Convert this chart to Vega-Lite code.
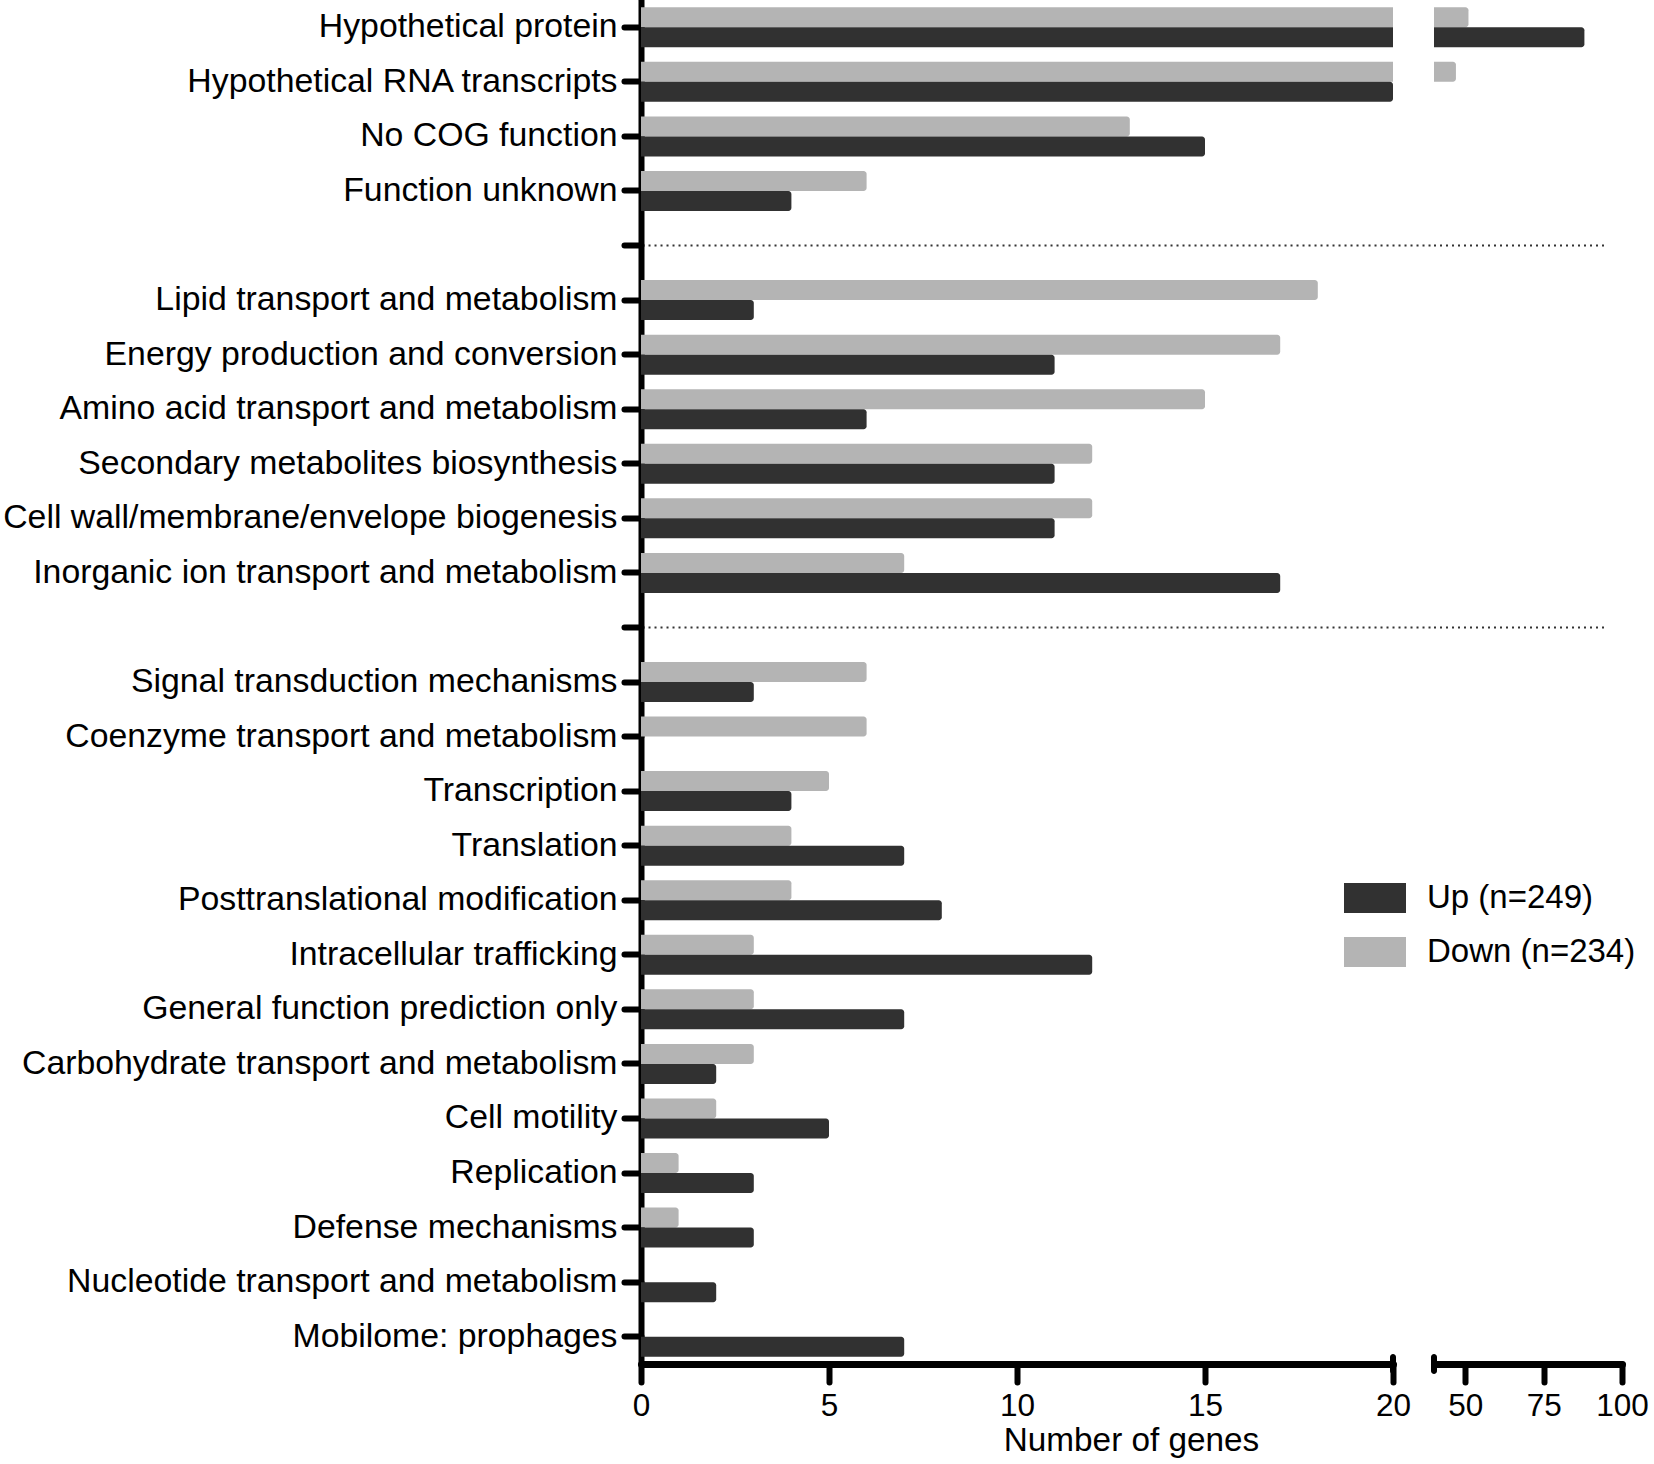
{
  "$schema": "https://vega.github.io/schema/vega-lite/v6.json",
  "padding": {"left": 2, "top": 0, "right": 5, "bottom": 5},
  "bounds": "flush",
  "spacing": 41,
  "config": {
    "font": "Liberation Sans",
    "view": {"stroke": null},
    "axis": {
      "domainColor": "black",
      "tickColor": "black",
      "labelColor": "black",
      "titleColor": "black",
      "grid": false,
      "zindex": 1,
      "tickCap": "round",
      "domainCap": "round",
      "labelFlush": false,
      "labelOverlap": false,
      "labelLimit": 0
    }
  },
  "datasets": {
    "genes": [
      {"category": "Hypothetical protein", "direction": "Down", "count": 51},
      {"category": "Hypothetical protein", "direction": "Up", "count": 88},
      {"category": "Hypothetical RNA transcripts", "direction": "Down", "count": 47},
      {"category": "Hypothetical RNA transcripts", "direction": "Up", "count": 20},
      {"category": "No COG function", "direction": "Down", "count": 13},
      {"category": "No COG function", "direction": "Up", "count": 15},
      {"category": "Function unknown", "direction": "Down", "count": 6},
      {"category": "Function unknown", "direction": "Up", "count": 4},
      {"category": "Lipid transport and metabolism", "direction": "Down", "count": 18},
      {"category": "Lipid transport and metabolism", "direction": "Up", "count": 3},
      {"category": "Energy production and conversion", "direction": "Down", "count": 17},
      {"category": "Energy production and conversion", "direction": "Up", "count": 11},
      {"category": "Amino acid transport and metabolism", "direction": "Down", "count": 15},
      {"category": "Amino acid transport and metabolism", "direction": "Up", "count": 6},
      {"category": "Secondary metabolites biosynthesis", "direction": "Down", "count": 12},
      {"category": "Secondary metabolites biosynthesis", "direction": "Up", "count": 11},
      {"category": "Cell wall/membrane/envelope biogenesis", "direction": "Down", "count": 12},
      {"category": "Cell wall/membrane/envelope biogenesis", "direction": "Up", "count": 11},
      {"category": "Inorganic ion transport and metabolism", "direction": "Down", "count": 7},
      {"category": "Inorganic ion transport and metabolism", "direction": "Up", "count": 17},
      {"category": "Signal transduction mechanisms", "direction": "Down", "count": 6},
      {"category": "Signal transduction mechanisms", "direction": "Up", "count": 3},
      {"category": "Coenzyme transport and metabolism", "direction": "Down", "count": 6},
      {"category": "Coenzyme transport and metabolism", "direction": "Up", "count": 0},
      {"category": "Transcription", "direction": "Down", "count": 5},
      {"category": "Transcription", "direction": "Up", "count": 4},
      {"category": "Translation", "direction": "Down", "count": 4},
      {"category": "Translation", "direction": "Up", "count": 7},
      {"category": "Posttranslational modification", "direction": "Down", "count": 4},
      {"category": "Posttranslational modification", "direction": "Up", "count": 8},
      {"category": "Intracellular trafficking", "direction": "Down", "count": 3},
      {"category": "Intracellular trafficking", "direction": "Up", "count": 12},
      {"category": "General function prediction only", "direction": "Down", "count": 3},
      {"category": "General function prediction only", "direction": "Up", "count": 7},
      {"category": "Carbohydrate transport and metabolism", "direction": "Down", "count": 3},
      {"category": "Carbohydrate transport and metabolism", "direction": "Up", "count": 2},
      {"category": "Cell motility", "direction": "Down", "count": 2},
      {"category": "Cell motility", "direction": "Up", "count": 5},
      {"category": "Replication", "direction": "Down", "count": 1},
      {"category": "Replication", "direction": "Up", "count": 3},
      {"category": "Defense mechanisms", "direction": "Down", "count": 1},
      {"category": "Defense mechanisms", "direction": "Up", "count": 3},
      {"category": "Nucleotide transport and metabolism", "direction": "Down", "count": 0},
      {"category": "Nucleotide transport and metabolism", "direction": "Up", "count": 2},
      {"category": "Mobilome: prophages", "direction": "Down", "count": 0},
      {"category": "Mobilome: prophages", "direction": "Up", "count": 7}
    ],
    "breaks": [
      {"category": "spacer1"},
      {"category": "spacer2"}
    ]
  },
  "hconcat": [
    {
      "width": 752,
      "height": 1364,
      "layer": [
        {
          "data": {"name": "genes"},
          "mark": {"type": "bar", "clip": true, "cornerRadiusEnd": 3},
          "encoding": {
            "y": {
              "field": "category",
              "type": "nominal",
              "scale": {
                "domain": ["Hypothetical protein", "Hypothetical RNA transcripts", "No COG function", "Function unknown", "spacer1", "Lipid transport and metabolism", "Energy production and conversion", "Amino acid transport and metabolism", "Secondary metabolites biosynthesis", "Cell wall/membrane/envelope biogenesis", "Inorganic ion transport and metabolism", "spacer2", "Signal transduction mechanisms", "Coenzyme transport and metabolism", "Transcription", "Translation", "Posttranslational modification", "Intracellular trafficking", "General function prediction only", "Carbohydrate transport and metabolism", "Cell motility", "Replication", "Defense mechanisms", "Nucleotide transport and metabolism", "Mobilome: prophages"],
                "paddingInner": 0.267,
                "paddingOuter": 0.1335
              },
              "axis": {
                "title": null,
                "labelExpr": "indexof(datum.value, 'spacer') == 0 ? '' : datum.value",
                "labelFontSize": 33.8,
                "labelPadding": 7,
                "tickSize": 17,
                "tickWidth": 6,
                "domainWidth": 6
              }
            },
            "x": {
              "field": "count",
              "type": "quantitative",
              "stack": null,
              "scale": {"domain": [0, 20], "nice": false},
              "axis": {
                "values": [0, 5, 10, 15, 20],
                "title": "Number of genes",
                "titleFontSize": 33.3,
                "titleFontWeight": "normal",
                "titleX": 490,
                "titleY": 86,
                "titleAlign": "center",
                "titleBaseline": "alphabetic",
                "labelFontSize": 31.5,
                "labelPadding": 8,
                "tickSize": 18,
                "tickWidth": 6,
                "domainWidth": 7
              }
            },
            "yOffset": {"field": "direction", "type": "nominal", "scale": {"domain": ["Down", "Up"]}},
            "color": {
              "field": "direction",
              "type": "nominal",
              "scale": {"domain": ["Up", "Down"], "range": ["#313131", "#b4b4b4"]},
              "legend": {
                "title": null,
                "orient": "none",
                "legendX": 703,
                "legendY": 867,
                "labelExpr": "datum.value == 'Up' ? 'Up (n=249)' : 'Down (n=234)'",
                "labelFontSize": 33,
                "labelColor": "black",
                "labelLimit": 0,
                "labelOffset": 21,
                "symbolType": "M-1,-0.48H1V0.48H-1Z",
                "symbolSize": 3844,
                "symbolStrokeWidth": 0,
                "symbolOpacity": 1,
                "rowPadding": 6
              }
            }
          }
        },
        {
          "data": {"name": "breaks"},
          "mark": {"type": "rule", "clip": false, "color": "#333333", "strokeWidth": 2, "strokeDash": [2, 4]},
          "encoding": {
            "y": {"field": "category", "type": "nominal"},
            "x": {"datum": 0.2},
            "x2": {"datum": 21.1}
          }
        },
        {
          "data": {"values": [{"cap": 20}]},
          "mark": {"type": "tick", "color": "black", "opacity": 1, "thickness": 6, "size": 20, "cornerRadius": 3, "yOffset": 27.3},
          "encoding": {
            "x": {"field": "cap", "type": "quantitative"},
            "y": {"datum": "Mobilome: prophages"}
          }
        }
      ]
    },
    {
      "width": 188,
      "height": 1364,
      "layer": [
        {
          "data": {"name": "genes"},
          "mark": {"type": "bar", "clip": true, "cornerRadiusEnd": 3},
          "encoding": {
            "y": {
              "field": "category",
              "type": "nominal",
              "scale": {
                "domain": ["Hypothetical protein", "Hypothetical RNA transcripts", "No COG function", "Function unknown", "spacer1", "Lipid transport and metabolism", "Energy production and conversion", "Amino acid transport and metabolism", "Secondary metabolites biosynthesis", "Cell wall/membrane/envelope biogenesis", "Inorganic ion transport and metabolism", "spacer2", "Signal transduction mechanisms", "Coenzyme transport and metabolism", "Transcription", "Translation", "Posttranslational modification", "Intracellular trafficking", "General function prediction only", "Carbohydrate transport and metabolism", "Cell motility", "Replication", "Defense mechanisms", "Nucleotide transport and metabolism", "Mobilome: prophages"],
                "paddingInner": 0.267,
                "paddingOuter": 0.1335
              },
              "axis": null
            },
            "x": {
              "field": "count",
              "type": "quantitative",
              "stack": null,
              "scale": {"domain": [40, 100], "nice": false, "zero": false},
              "axis": {
                "values": [50, 75, 100],
                "title": null,
                "labelFontSize": 31.5,
                "labelPadding": 8,
                "tickSize": 18,
                "tickWidth": 6,
                "domainWidth": 7
              }
            },
            "yOffset": {"field": "direction", "type": "nominal", "scale": {"domain": ["Down", "Up"]}},
            "color": {
              "field": "direction",
              "type": "nominal",
              "scale": {"domain": ["Up", "Down"], "range": ["#313131", "#b4b4b4"]}
            }
          }
        },
        {
          "data": {"name": "breaks"},
          "mark": {"type": "rule", "clip": false, "color": "#333333", "strokeWidth": 2, "strokeDash": [2, 4]},
          "encoding": {
            "y": {"field": "category", "type": "nominal"},
            "x": {"datum": 40},
            "x2": {"datum": 95}
          }
        },
        {
          "data": {"values": [{"cap": 40}]},
          "mark": {"type": "tick", "color": "black", "opacity": 1, "thickness": 6, "size": 20, "cornerRadius": 3, "yOffset": 27.3},
          "encoding": {
            "x": {"field": "cap", "type": "quantitative"},
            "y": {"datum": "Mobilome: prophages"}
          }
        }
      ]
    }
  ],
  "resolve": {"scale": {"x": "independent", "y": "independent", "yOffset": "independent", "color": "shared"}}
}
